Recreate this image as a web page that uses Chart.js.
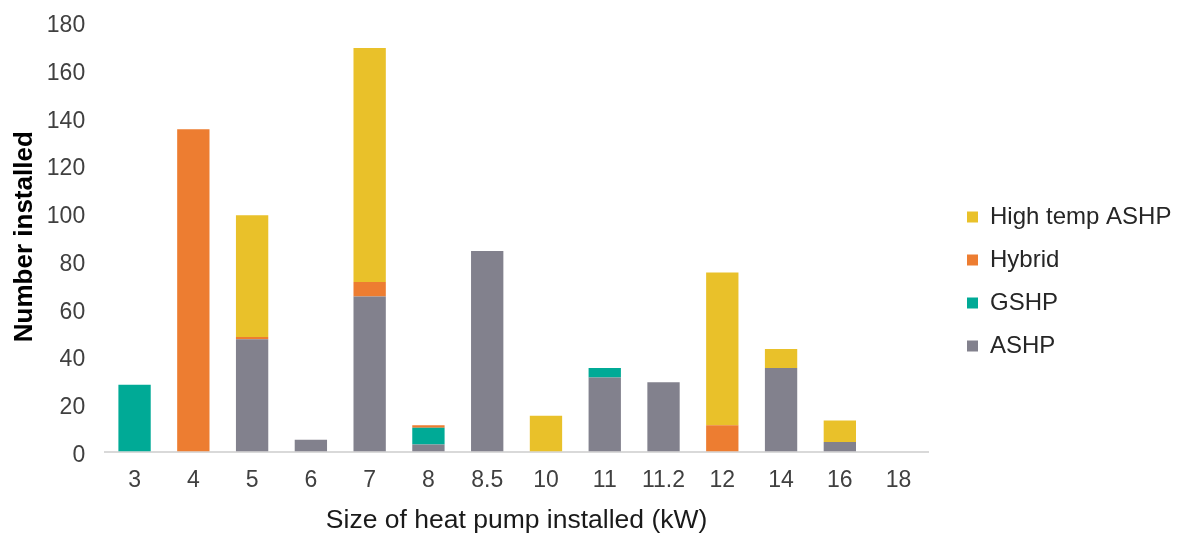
<!DOCTYPE html>
<html>
<head>
<meta charset="utf-8">
<script src="https://cdn.jsdelivr.net/npm/chart.js@4"></script>
<style>
  html, body { margin: 0; padding: 0; background: #fff; }
  #wrap { width: 1179px; height: 538px; }
</style>
</head>
<body>
<div id="wrap"><canvas id="bar-chart"></canvas></div>
<script>
const sizes = ["3", "4", "5", "6", "7", "8", "8.5", "10", "11", "11.2", "12", "14", "16", "18"];
const ashp     = [0, 0, 47, 5, 65, 3, 84, 0, 31, 29, 0, 35, 4, 0];
const gshp     = [28, 0, 0, 0, 0, 7, 0, 0, 4, 0, 0, 0, 0, 0];
const hybrid   = [0, 135, 1, 0, 6, 1, 0, 0, 0, 0, 11, 0, 0, 0];
const highTemp = [0, 0, 51, 0, 98, 0, 0, 15, 0, 0, 64, 8, 9, 0];

const COLORS = {
  ashp: "#82818d",
  gshp: "#00aa96",
  hybrid: "#ed7d31",
  highTemp: "#e9c12a",
};

const data_pumps = {
  labels: sizes,
  datasets: [
    { label: "ASHP", data: ashp, backgroundColor: COLORS.ashp },
    { label: "GSHP", data: gshp, backgroundColor: COLORS.gshp },
    { label: "Hybrid", data: hybrid, backgroundColor: COLORS.hybrid },
    { label: "High temp ASHP", data: highTemp, backgroundColor: COLORS.highTemp },
  ],
};

// legend sits right of the plot with a gap, like the original
const legendPlace = {
  id: "legendPlace",
  afterInit(chart) {
    const lg = chart.legend;
    const origFit = lg.fit.bind(lg);
    lg.fit = function () {
      origFit();
      this.width = 251;
    };
  },
  afterLayout(chart) {
    const lg = chart.legend;
    lg.left += 20;
    lg.top += 10;
    lg.bottom += 10;
  },
};

Chart.defaults.font.family = "'Liberation Sans', Arial, sans-serif";
Chart.defaults.color = "#404040";

const config_pumps = {
  type: "bar",
  data: data_pumps,
  plugins: [legendPlace],
  options: {
    responsive: true,
    maintainAspectRatio: false,
    animation: false,
    datasets: { bar: { categoryPercentage: 1, barPercentage: 0.55 } },
    layout: { padding: { top: 5, right: 0, bottom: 0, left: 2 } },
    plugins: {
      legend: {
        position: "right",
        reverse: true,
        labels: {
          boxWidth: 11,
          boxHeight: 11,
          padding: 19,
          color: "#262626",
          font: { size: 24 },
        },
      },
      tooltip: { enabled: false },
    },
    scales: {
      x: {
        stacked: true,
        grid: { display: false },
        border: { color: "#d9d9d9", width: 2 },
        ticks: { font: { size: 23 }, padding: 7 },
        title: {
          display: true,
          text: "Size of heat pump installed (kW)",
          color: "#1a1a1a",
          font: { size: 26.5 },
          padding: { top: 4, bottom: 1 },
        },
      },
      y: {
        stacked: true,
        min: 0,
        max: 180,
        grid: { display: false, tickLength: 12 },
        border: { display: false },
        ticks: { stepSize: 20, font: { size: 23 }, padding: 8, labelOffset: 4 },
        title: {
          display: true,
          text: "Number installed",
          color: "#000",
          font: { size: 26, weight: "bold", lineHeight: 0.8 },
          padding: { top: 12, bottom: 4 },
        },
      },
    },
  },
};
var ctx_pumps = document.getElementById("bar-chart").getContext("2d");
var pumpChart = new Chart(ctx_pumps, config_pumps);
</script>
</body>
</html>
